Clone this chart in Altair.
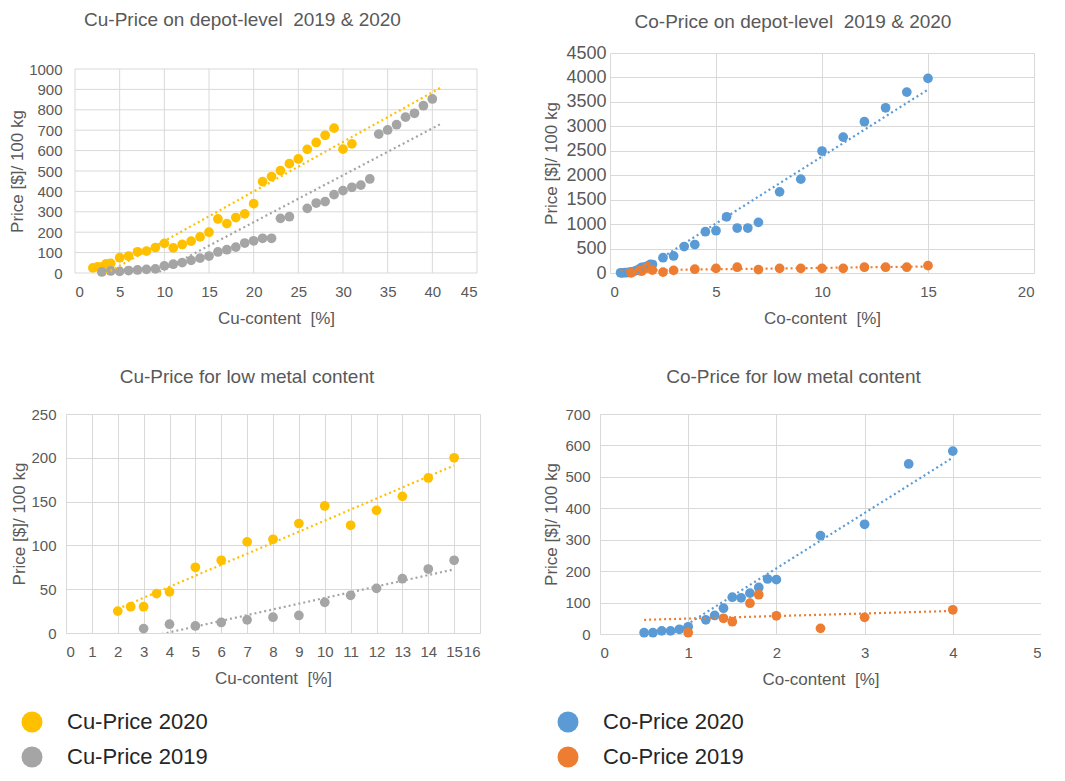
import altair as alt
import pandas as pd

# ---------------- data ----------------
cu20_x = [2, 2.5, 3, 3.5, 4, 5, 6, 7, 8, 9, 10, 11, 12, 13, 14, 15, 16, 17, 18, 19, 20,
          21, 22, 23, 24, 25, 26, 27, 28, 29, 30, 31]
cu20_y = [25, 30, 30, 45, 47, 75, 83, 104, 107, 125, 145, 123, 140, 156, 177, 200, 265, 242, 272, 290, 340,
          448, 473, 502, 536, 559, 606, 640, 675, 710, 607, 633]

cu19_x = [3, 4, 5, 6, 7, 8, 9, 10, 11, 12, 13, 14, 15, 16, 17, 18, 19, 20, 21, 22, 23, 24,
          26, 27, 28, 29, 30, 31, 32, 33, 34, 35, 36, 37, 38, 39, 40]
cu19_y = [5, 10, 8, 12, 15, 18, 20, 35, 43, 51, 62, 73, 83, 103, 114, 127, 147, 158, 170, 170, 268, 276,
          317, 343, 350, 384, 404, 420, 431, 461, 681, 701, 727, 764, 783, 820, 853]

co20_x = [0.5, 0.6, 0.7, 0.8, 0.9, 1.0, 1.2, 1.3, 1.4, 1.5, 1.6, 1.7, 1.8, 1.9, 2.0, 2.5, 3.0, 3.5, 4.0,
          4.5, 5.0, 5.5, 6.0, 6.5, 7.0, 8, 9, 10, 11, 12, 13, 14, 15]
co20_y = [4, 4, 10, 10, 15, 23, 45, 59, 82, 117, 115, 130, 148, 175, 173, 313, 349, 541, 582,
          845, 865, 1150, 920, 920, 1035, 1660, 1920, 2495, 2780, 3095, 3380, 3700, 3980]

co19_x = [1.0, 1.4, 1.5, 1.7, 1.8, 2.0, 2.5, 3.0, 4.0, 5, 6, 7, 8, 9, 10, 11, 12, 13, 14, 15]
co19_y = [4, 50, 39, 98, 125, 58, 18, 53, 77, 95, 118, 70, 95, 95, 95, 95, 118, 118, 118, 150]

cu_series = ["Cu-Price 2020", "Cu-Price 2019"]
co_series = ["Co-Price 2020", "Co-Price 2019"]
cu_colors = ["#FFC000", "#A5A5A5"]
co_colors = ["#5B9BD5", "#ED7D31"]

tl_xticks = [0, 5, 10, 15, 20, 25, 30, 35, 40, 45]
tl_yticks = [0, 100, 200, 300, 400, 500, 600, 700, 800, 900, 1000]
tr_xticks = [0, 5, 10, 15, 20]
tr_yticks = [0, 500, 1000, 1500, 2000, 2500, 3000, 3500, 4000, 4500]
bl_xticks = list(range(0, 17))
bl_yticks = [0, 50, 100, 150, 200, 250]
br_xticks = [0, 1, 2, 3, 4, 5]
br_yticks = [0, 100, 200, 300, 400, 500, 600, 700]

FONT = "Liberation Sans"
GREY = "#595959"
GRID = "#D9D9D9"
NB = "\u00a0"


def frame(xs, ys, name):
    return pd.DataFrame({"x": xs, "y": ys, "series": name})


cu_df = pd.concat([frame(cu20_x, cu20_y, cu_series[0]), frame(cu19_x, cu19_y, cu_series[1])],
                  ignore_index=True)
co_df = pd.concat([frame(co20_x, co20_y, co_series[0]), frame(co19_x, co19_y, co_series[1])],
                  ignore_index=True)


def panel(df, xmax_data, title, xlab, xdom, xticks, ydom, yticks, extent, series, colors,
          w, h, title_dx, title_off, ylabpad, ytitlepad, ylabsize=15, legend=None,
          xrange=None, yrange=None):
    data = df[df["x"] <= xmax_data]
    cscale = alt.Scale(domain=series, range=colors)
    own_grid = xrange is not None
    xaxis = alt.Axis(values=xticks, title=xlab, format="d", labelPadding=11, titlePadding=11,
                     grid=not own_grid, ticks=False, tickSize=0, labelOverlap=False,
                     domain=False)
    yaxis = alt.Axis(values=yticks, title="Price [$]/ 100 kg", format="d", labelPadding=ylabpad,
                     titlePadding=ytitlepad, grid=not own_grid, ticks=False, tickSize=0,
                     labelOverlap=False, domain=False, labelFontSize=ylabsize)
    if own_grid:
        xs = alt.Scale(domain=xdom, nice=False, zero=False, range=xrange)
        ys = alt.Scale(domain=ydom, nice=False, range=yrange)
    else:
        xs = alt.Scale(domain=xdom, nice=False, zero=False)
        ys = alt.Scale(domain=ydom, nice=False)
    layers = []
    if own_grid:
        # grid lines drawn as rules so that they stop at the axis domain
        vdf = pd.DataFrame({"x": xticks, "lo": ydom[0], "hi": ydom[1]})
        hdf = pd.DataFrame({"y": yticks, "lo": xdom[0], "hi": xdom[1]})
        vr = alt.Chart(vdf).mark_rule(color=GRID, strokeWidth=1).encode(
            x=alt.X("x:Q", scale=xs, axis=xaxis),
            y=alt.Y("lo:Q", scale=ys, axis=yaxis),
            y2=alt.Y2("hi:Q"),
        )
        hr = alt.Chart(hdf).mark_rule(color=GRID, strokeWidth=1).encode(
            y=alt.Y("y:Q", scale=ys, axis=yaxis),
            x=alt.X("lo:Q", scale=xs, axis=xaxis),
            x2=alt.X2("hi:Q"),
        )
        layers += [vr, hr]
    base = alt.Chart(data)
    pts = base.mark_circle(size=95, opacity=1).encode(
        x=alt.X("x:Q", scale=xs, axis=xaxis),
        y=alt.Y("y:Q", scale=ys, axis=yaxis),
        color=alt.Color("series:N", scale=cscale, legend=legend),
    )
    trend = base.transform_regression(
        "x", "y", groupby=["series"], extent=extent
    ).mark_line(clip=True, strokeDash=[2, 3], strokeWidth=2.2).encode(
        x=alt.X("x:Q", scale=xs, axis=xaxis),
        y=alt.Y("y:Q", scale=ys, axis=yaxis),
        color=alt.Color("series:N", scale=cscale, legend=None),
    )
    layers += [pts, trend]
    return alt.layer(*layers).properties(
        width=w, height=h,
        title=alt.TitleParams(text=title, dx=title_dx, offset=title_off, anchor="middle"),
    )


def make_legend(lx, ly):
    return alt.Legend(
        title=None, orient="none", legendX=lx, legendY=ly, direction="vertical",
        symbolType="circle", symbolSize=441, symbolStrokeWidth=0, symbolOpacity=1,
        labelFontSize=22, labelColor="#262626", labelFont=FONT, labelLimit=300,
        rowPadding=13, labelOffset=24, padding=0,
    )


tl = panel(cu_df, 100, "Cu-Price on depot-level" + NB + " 2019 & 2020", "Cu-content" + NB + " [%]",
           [0, 45], tl_xticks, [0, 1000], tl_yticks, [2, 41], cu_series, cu_colors,
           411, 220, -29, 23, 4, 2, xrange=[9, 411], yrange=[220, 16])
tr = panel(co_df, 100, "Co-Price on depot-level" + NB + " 2019 & 2020", "Co-content" + NB + " [%]",
           [0, 20], tr_xticks, [0, 4500], tr_yticks, [0.5, 15], co_series, co_colors,
           424, 220, -29, 12, 4, 5, ylabsize=18)
bl = panel(cu_df, 15, "Cu-Price for low metal content", "Cu-content" + NB + " [%]",
           [0, 16], bl_xticks, [0, 250], bl_yticks, [2, 15], cu_series, cu_colors,
           414, 219, -26, 20, 10, 2, legend=make_legend(-45, 297))
br = panel(co_df, 4, "Co-Price for low metal content", "Co-content" + NB + " [%]",
           [0, 5], br_xticks, [0, 700], br_yticks, [0.5, 4], co_series, co_colors,
           441, 220, -27, 20, 10, 4, legend=make_legend(-43, 297))

chart = alt.concat(tl, tr, bl, br, columns=2).properties(
    align="none", spacing={"row": 42, "column": 62},
    padding={"top": 3, "left": 0, "right": 0, "bottom": 0}, background="white"
).resolve_scale(
    color="independent"
).configure_view(
    stroke=None
).configure_axis(
    gridColor=GRID, labelColor=GREY, titleColor=GREY, labelFont=FONT, titleFont=FONT,
    labelFontSize=15, titleFontSize=17, titleFontWeight="normal",
).configure_title(
    font=FONT, fontSize=19, color=GREY, fontWeight="normal",
)

chart.save("out.html", embed_options={"renderer": "svg", "actions": False})
